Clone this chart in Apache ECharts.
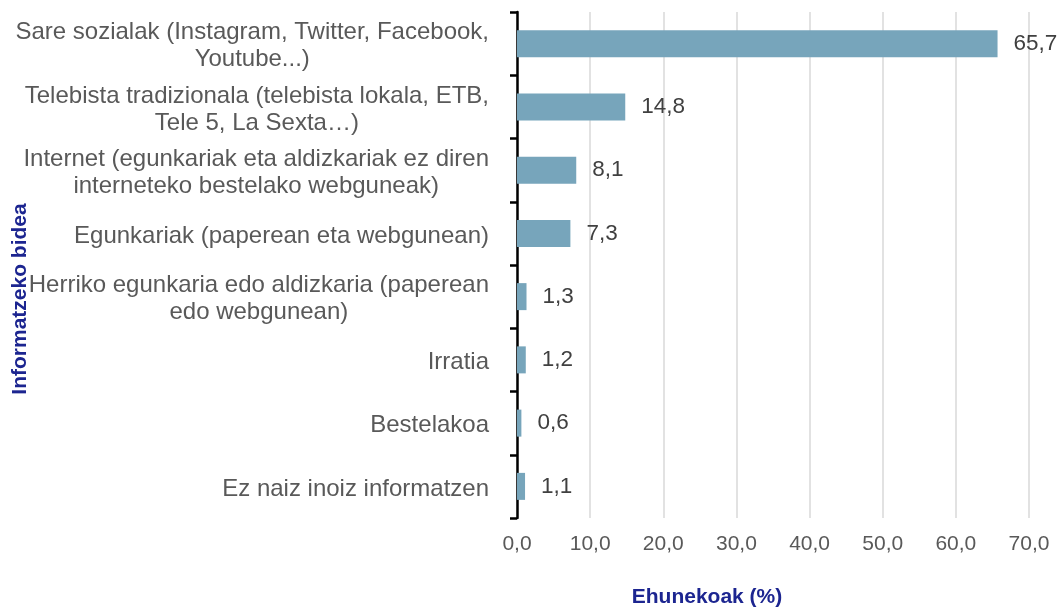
<!DOCTYPE html>
<html>
<head>
<meta charset="utf-8">
<script src="https://cdn.jsdelivr.net/npm/echarts@6/dist/echarts.min.js"></script>
<style>
html,body{margin:0;padding:0;background:#fff;}
#chart{width:1064px;height:607px;}
</style>
</head>
<body>
<div id="chart"></div>
<script>
const categories = [
  'Sare sozialak (Instagram, Twitter, Facebook,\nYoutube...)',
  'Telebista tradizionala (telebista lokala, ETB,\nTele 5, La Sexta…)',
  'Internet (egunkariak eta aldizkariak ez diren\ninterneteko bestelako webguneak)',
  'Egunkariak (paperean eta webgunean)',
  'Herriko egunkaria edo aldizkaria (paperean\nedo webgunean)',
  'Irratia',
  'Bestelakoa',
  'Ez naiz inoiz informatzen'
];
const values = [65.7, 14.8, 8.1, 7.3, 1.3, 1.2, 0.6, 1.1];
const xTicks = [0, 10, 20, 30, 40, 50, 60, 70];
const xAxisTitle = 'Ehunekoak (%)';
const yAxisTitle = 'Informatzeko bidea';

const FONT = '"Liberation Sans", Arial, sans-serif';
const chart = echarts.init(document.getElementById('chart'));
const fmt = v => v.toFixed(1).replace('.', ',');

chart.setOption({
  animation: false,
  backgroundColor: '#ffffff',
  textStyle: { fontFamily: FONT },
  grid: { left: 517, right: 35, top: 12, bottom: 89, containLabel: false },
  xAxis: {
    type: 'value',
    min: xTicks[0],
    max: xTicks[xTicks.length - 1],
    interval: 10,
    axisLine: { show: false },
    axisTick: { show: false },
    splitLine: { show: true, lineStyle: { color: '#d9d9d9', width: 1.5 } },
    axisLabel: {
      formatter: v => fmt(v),
      color: '#595959',
      fontSize: 21,
      fontFamily: FONT,
      margin: 16
    }
  },
  yAxis: {
    type: 'category',
    inverse: true,
    data: categories,
    axisLine: { show: true, lineStyle: { color: '#000000', width: 2.5 } },
    axisTick: { show: true, length: 7, lineStyle: { color: '#000000', width: 2.5 } },
    splitLine: { show: false },
    axisLabel: {
      margin: 28,
      color: '#595959',
      fontSize: 24,
      fontFamily: FONT,
      lineHeight: 27,
      padding: [5, 0, 0, 0],
      formatter: v => v.split('\n').map(s => '{c|' + s + '}').join('\n'),
      rich: {
        c: { align: 'center', color: '#595959', fontSize: 24, fontFamily: FONT, lineHeight: 27 }
      }
    }
  },
  series: [{
    type: 'bar',
    data: values,
    barWidth: 27,
    itemStyle: { color: '#77a5bb' },
    label: {
      show: true,
      position: 'right',
      distance: 16,
      formatter: p => fmt(p.value),
      color: '#404040',
      fontSize: 22.5,
      fontFamily: FONT
    },
    z: 1
  }],
  graphic: [
    {
      type: 'text',
      x: 707, y: 597,
      style: { text: xAxisTitle, fill: '#1c2590', font: 'bold 21px ' + FONT, align: 'center', verticalAlign: 'middle' }
    },
    {
      type: 'text',
      x: 20, y: 299,
      rotation: Math.PI / 2,
      style: { text: yAxisTitle, fill: '#1c2590', font: 'bold 21px ' + FONT, align: 'center', verticalAlign: 'middle' }
    }
  ]
});
</script>
</body>
</html>
